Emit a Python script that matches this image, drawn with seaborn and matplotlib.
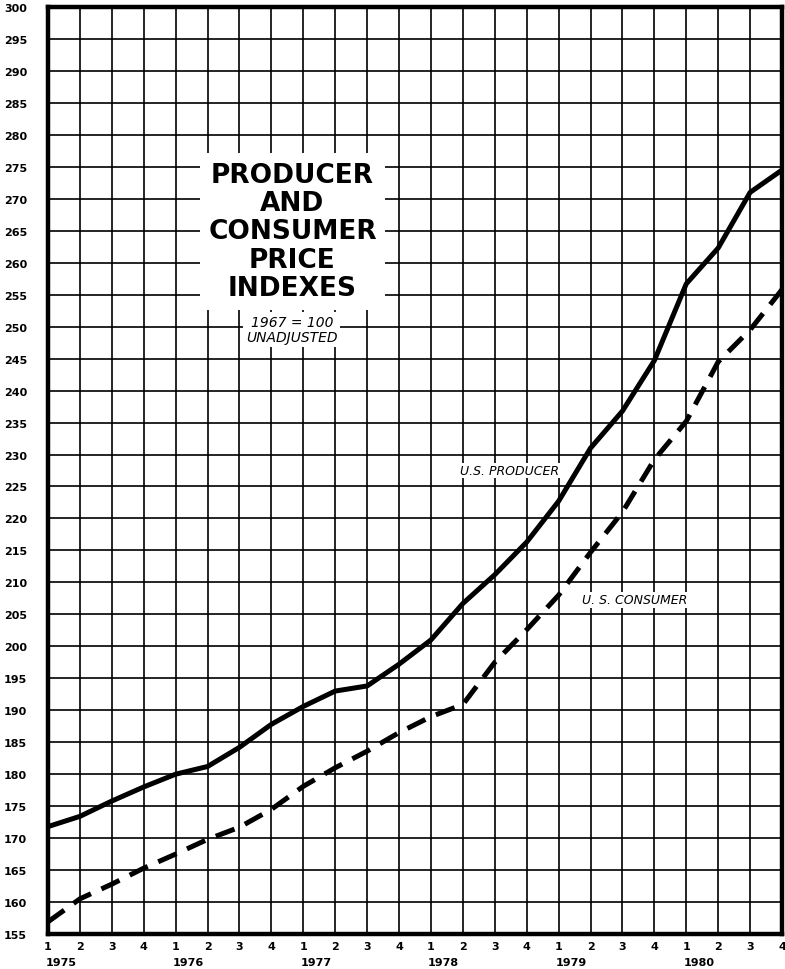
import pandas as pd
import matplotlib
matplotlib.use("Agg")
import matplotlib.pyplot as plt
import seaborn as sns

# quarterly index values, 1967 = 100
years = ["1975", "1976", "1977", "1978", "1979", "1980"]
quarters = ["1", "2", "3", "4"]
producer = [171.8, 173.4, 175.8, 178.0, 180.0, 181.2, 184.2, 187.8,
            190.6, 193.0, 193.8, 197.2, 201.0, 206.7, 211.2, 216.3,
            222.7, 231.0, 236.8, 244.7, 256.7, 262.3, 271.0, 274.5]
consumer = [156.9, 160.5, 162.8, 165.3, 167.5, 169.8, 171.7, 174.5,
            178.1, 181.0, 183.6, 186.5, 189.0, 190.9, 197.5, 202.6,
            208.0, 214.7, 221.0, 229.2, 235.2, 244.5, 249.5, 255.8]

n = len(producer)
df = pd.DataFrame({
    "t": list(range(n)) * 2,
    "index": producer + consumer,
    "series": ["U.S. PRODUCER"] * n + ["U. S. CONSUMER"] * n,
})

sns.set_style("white")
plt.rcParams["font.family"] = ["DejaVu Sans"]
plt.rcParams["text.color"] = "black"
plt.rcParams["xtick.color"] = "black"
plt.rcParams["ytick.color"] = "black"

fig = plt.figure(figsize=(7.85, 9.70), dpi=100)
ax = fig.add_axes([48 / 785, 35 / 970, 734 / 785, 927 / 970])

sns.lineplot(data=df, x="t", y="index", style="series", color="black",
             linewidth=3.6, dashes={"U.S. PRODUCER": "", "U. S. CONSUMER": (4, 2.3)},
             legend=False, ax=ax, zorder=3)

ax.set_xlim(0, n - 1)
ax.set_ylim(155, 300)
ax.set_yticks(range(155, 301, 5))
ax.set_yticklabels([str(v) for v in range(155, 301, 5)], fontsize=8, fontweight="bold")
ax.set_xticks(range(n))
ax.set_xticklabels(quarters * len(years), fontsize=8, fontweight="bold")
ax.tick_params(axis="both", length=0)
ax.tick_params(axis="y", pad=15)
ax.tick_params(axis="x", pad=5)
ax.set_xlabel("")
ax.set_ylabel("")

ax.grid(True, color="black", linewidth=1.2, zorder=0)
ax.set_axisbelow(True)
for s in ax.spines.values():
    s.set_visible(True)
    s.set_color("black")
    s.set_linewidth(3.2)

# year labels under the first quarter of each year
for i, yr in enumerate(years):
    ax.text(i * 4 + 0.4, -0.030, yr, transform=ax.get_xaxis_transform(),
            ha="center", va="center", fontsize=8, fontweight="bold")

ax.text(7.66, 264.9, "PRODUCER\nAND\nCONSUMER\nPRICE\nINDEXES",
        ha="center", va="center", fontsize=19, fontweight="heavy",
        linespacing=1.12, zorder=4,
        bbox=dict(facecolor="white", edgecolor="none", pad=6))
ax.text(7.64, 249.6, "1967 = 100\nUNADJUSTED", ha="center", va="center",
        fontsize=10, style="italic", linespacing=1.1, zorder=4,
        bbox=dict(facecolor="white", edgecolor="none", pad=2))

ax.text(14.45, 227.5, "U.S. PRODUCER", ha="center", va="center",
        fontsize=9, style="italic", zorder=4,
        bbox=dict(facecolor="white", edgecolor="none", pad=1))
ax.text(18.37, 207.3, "U. S. CONSUMER", ha="center", va="center",
        fontsize=9, style="italic", zorder=4,
        bbox=dict(facecolor="white", edgecolor="none", pad=1))

fig.savefig("out.png", dpi=100)
